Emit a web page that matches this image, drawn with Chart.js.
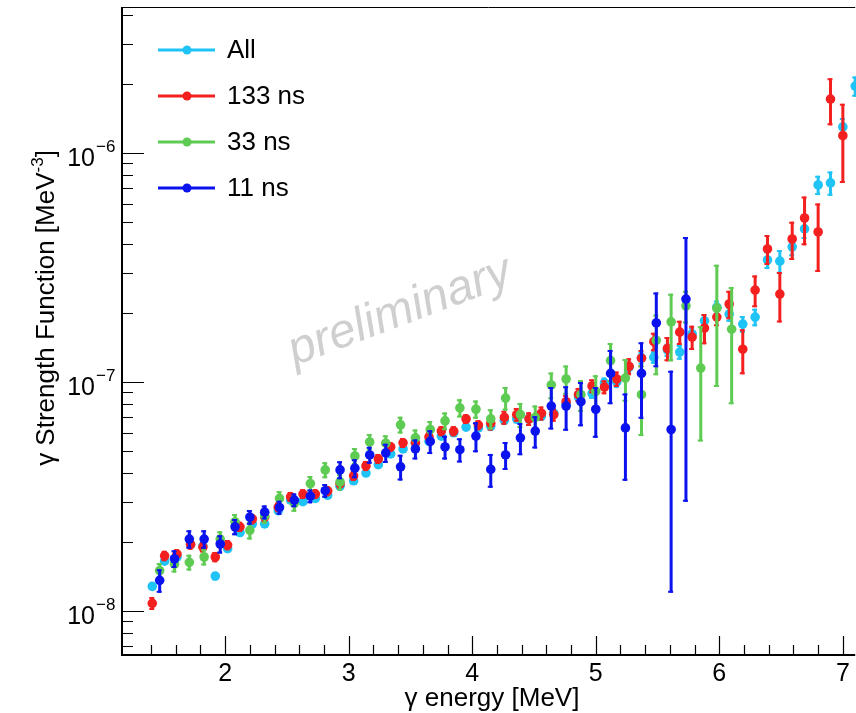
<!DOCTYPE html>
<html>
<head>
<meta charset="utf-8">
<title>gamma strength function</title>
<script src="https://cdn.jsdelivr.net/npm/chart.js@4.4.1/dist/chart.umd.min.js"></script>
<style>
	html, body { margin: 0; padding: 0; background: #ffffff; overflow: hidden; }
	#wrap { position: relative; width: 860px; height: 713px; }
</style>
</head>
<body>
<div id="wrap"><canvas id="myCanvas" width="860" height="713"></canvas></div>
<script>
/*
	Gamma strength function vs gamma energy, four time cuts.
	Values.
*/

// bin centres [MeV] for "All" and "133 ns"
var energyFine = [1.41, 1.51, 1.61, 1.72, 1.82, 1.92, 2.02, 2.12, 2.22, 2.32,
	2.43, 2.53, 2.63, 2.73, 2.83, 2.93, 3.04, 3.14, 3.24, 3.34,
	3.44, 3.54, 3.65, 3.75, 3.85, 3.95, 4.05, 4.15, 4.26, 4.36,
	4.46, 4.56, 4.66, 4.76, 4.86, 4.97, 5.07, 5.17, 5.27, 5.37,
	5.47, 5.58, 5.68, 5.78, 5.88, 5.98, 6.08, 6.19, 6.29, 6.39,
	6.49, 6.59, 6.69, 6.80, 6.90, 7.00, 7.10];

// bin centres [MeV] for "33 ns" and "11 ns"
var energyCoarse = [1.47, 1.59, 1.71, 1.83, 1.96, 2.08, 2.20, 2.32, 2.44, 2.56,
	2.69, 2.81, 2.93, 3.05, 3.17, 3.30, 3.42, 3.54, 3.66, 3.78,
	3.90, 4.03, 4.15, 4.27, 4.39, 4.51, 4.64, 4.76, 4.88, 5.00,
	5.12, 5.24, 5.37, 5.49, 5.61, 5.73, 5.85, 5.98, 6.10];

var allY = [1.28e-8, 1.65e-8, 1.72e-8, 1.95e-8, 1.92e-8, 1.42e-8, 1.87e-8, 2.2e-8, 2.4e-8, 2.4e-8,
	2.74e-8, 3.05e-8, 3.0e-8, 3.1e-8, 3.2e-8, 3.5e-8, 3.7e-8, 4.0e-8, 4.35e-8, 4.85e-8,
	5.1e-8, 5.4e-8, 5.5e-8, 5.8e-8, 6.0e-8, 6.35e-8, 6.3e-8, 6.4e-8, 6.8e-8, 6.9e-8,
	6.9e-8, 7.1e-8, 7.3e-8, 8.0e-8, 8.6e-8, 8.9e-8, 9.9e-8, 1.0e-7, 1.16e-7, 1.27e-7,
	1.28e-7, 1.38e-7, 1.35e-7, 1.62e-7, 1.85e-7, 2.12e-7, 1.98e-7, 1.79e-7, 1.92e-7, 3.41e-7,
	3.37e-7, 3.89e-7, 4.66e-7, 7.25e-7, 7.4e-7, 1.3e-6, 1.96e-6];
var allErr = [0.05e-8, 0.06e-8, 0.06e-8, 0.07e-8, 0.07e-8, 0.06e-8, 0.07e-8, 0.08e-8, 0.09e-8, 0.09e-8,
	0.1e-8, 0.11e-8, 0.11e-8, 0.11e-8, 0.12e-8, 0.13e-8, 0.14e-8, 0.15e-8, 0.16e-8, 0.18e-8,
	0.19e-8, 0.2e-8, 0.21e-8, 0.22e-8, 0.23e-8, 0.25e-8, 0.25e-8, 0.28e-8, 0.3e-8, 0.31e-8,
	0.32e-8, 0.34e-8, 0.36e-8, 0.4e-8, 0.45e-8, 0.47e-8, 0.55e-8, 0.06e-7, 0.07e-7, 0.08e-7,
	0.08e-7, 0.09e-7, 0.1e-7, 0.11e-7, 0.13e-7, 0.15e-7, 0.15e-7, 0.15e-7, 0.17e-7, 0.3e-7,
	0.4e-7, 0.35e-7, 0.45e-7, 0.7e-7, 0.9e-7, 0.12e-6, 0.2e-6];

var ns133Y = [1.08e-8, 1.74e-8, 1.77e-8, 1.95e-8, 1.9e-8, 1.72e-8, 1.94e-8, 2.33e-8, 2.52e-8, 2.57e-8,
	2.84e-8, 3.15e-8, 3.24e-8, 3.24e-8, 3.34e-8, 3.59e-8, 3.89e-8, 4.3e-8, 4.61e-8, 5.2e-8,
	5.42e-8, 5.42e-8, 5.75e-8, 6.1e-8, 6.1e-8, 6.89e-8, 6.48e-8, 6.6e-8, 7.0e-8, 7.2e-8,
	6.9e-8, 7.3e-8, 7.2e-8, 8.2e-8, 8.8e-8, 9.6e-8, 9.5e-8, 1.03e-7, 1.17e-7, 1.27e-7,
	1.5e-7, 1.4e-7, 1.65e-7, 1.57e-7, 1.72e-7, 1.92e-7, 2.19e-7, 1.39e-7, 2.52e-7, 3.81e-7,
	2.42e-7, 4.21e-7, 5.2e-7, 4.52e-7, 1.72e-6, 1.19e-6];
var ns133Err = [0.07e-8, 0.09e-8, 0.09e-8, 0.1e-8, 0.1e-8, 0.09e-8, 0.1e-8, 0.12e-8, 0.13e-8, 0.13e-8,
	0.14e-8, 0.16e-8, 0.16e-8, 0.16e-8, 0.17e-8, 0.18e-8, 0.2e-8, 0.22e-8, 0.23e-8, 0.26e-8,
	0.27e-8, 0.27e-8, 0.29e-8, 0.31e-8, 0.31e-8, 0.34e-8, 0.33e-8, 0.46e-8, 0.49e-8, 0.5e-8,
	0.48e-8, 0.51e-8, 0.5e-8, 0.57e-8, 0.62e-8, 0.67e-8, 0.67e-8, 0.08e-7, 0.1e-7, 0.11e-7,
	0.14e-7, 0.17e-7, 0.2e-7, 0.19e-7, 0.26e-7, 0.17e-7, 0.31e-7, 0.31e-7, 0.4e-7, 0.57e-7,
	0.6e-7, 0.8e-7, 1.25e-7, 1.5e-7, 0.4e-6, 0.45e-6];

var ns33Y = [1.5e-8, 1.6e-8, 1.63e-8, 1.72e-8, 2.06e-8, 2.45e-8, 2.25e-8, 2.6e-8, 3.1e-8, 2.95e-8,
	3.6e-8, 4.13e-8, 3.66e-8, 4.75e-8, 5.47e-8, 5.4e-8, 6.5e-8, 5.7e-8, 6.2e-8, 6.76e-8,
	7.7e-8, 7.6e-8, 6.9e-8, 8.5e-8, 7.2e-8, 7.0e-8, 9.7e-8, 1.03e-7, 8.8e-8, 9.1e-8,
	1.24e-7, 1.04e-7, 8.8e-8, 1.52e-7, 1.83e-7, 2.15e-7, 1.15e-7, 2.1e-7, 1.7e-7];
var ns33Err = [0.12e-8, 0.13e-8, 0.13e-8, 0.14e-8, 0.17e-8, 0.2e-8, 0.2e-8, 0.2e-8, 0.24e-8, 0.24e-8,
	0.28e-8, 0.33e-8, 0.3e-8, 0.4e-8, 0.45e-8, 0.45e-8, 0.55e-8, 0.5e-8, 0.55e-8, 0.6e-8,
	0.7e-8, 0.7e-8, 0.7e-8, 1.0e-8, 0.9e-8, 0.9e-8, 1.3e-8, 0.15e-7, 1.4e-8, 1.6e-8,
	0.24e-7, 0.22e-7, 3.0e-8, 0.45e-7, 0.6e-7, 0.35e-7, 0.6e-7, 1.15e-7, 0.9e-7];

var ns11Y = [1.36e-8, 1.69e-8, 2.06e-8, 2.06e-8, 1.96e-8, 2.33e-8, 2.57e-8, 2.7e-8, 2.83e-8, 3.05e-8,
	3.17e-8, 3.35e-8, 4.13e-8, 4.2e-8, 4.8e-8, 4.9e-8, 4.26e-8, 5.1e-8, 5.5e-8, 5.2e-8,
	5.06e-8, 5.8e-8, 4.15e-8, 4.8e-8, 5.7e-8, 6.1e-8, 7.85e-8, 7.85e-8, 8.2e-8, 7.6e-8,
	1.09e-7, 6.3e-8, 1.09e-7, 1.81e-7, 6.2e-8, 2.3e-7];
var ns11Err = [0.16e-8, 0.15e-8, 0.19e-8, 0.19e-8, 0.18e-8, 0.19e-8, 0.19e-8, 0.19e-8, 0.2e-8, 0.21e-8,
	0.22e-8, 0.23e-8, 0.37e-8, 0.4e-8, 0.41e-8, 0.47e-8, 0.55e-8, 0.51e-8, 0.66e-8, 0.62e-8,
	0.61e-8, 0.87e-8, 0.7e-8, 0.67e-8, 0.91e-8, 0.98e-8, 1.65e-8, 1.73e-8, 1.8e-8, 1.9e-8,
	0.29e-7, 2.6e-8, 0.4e-7, 0.65e-7, 5.0e-8, 2.0e-7];

var seriesNames = ['All', '133 ns', '33 ns', '11 ns'];
var seriesColors = ['#1fc3f6', '#f42020', '#5ecb52', '#0a12ee'];

// axis ticks
var xMajorTicks = [2, 3, 4, 5, 6, 7];
var xMinorTicks = [1.4, 1.6, 1.8, 2.2, 2.4, 2.6, 2.8, 3.2, 3.4, 3.6, 3.8, 4.2, 4.4, 4.6, 4.8,
	5.2, 5.4, 5.6, 5.8, 6.2, 6.4, 6.6, 6.8];
var yMajorTicks = [1e-8, 1e-7, 1e-6];
var yTickExponents = ['\u22128', '\u22127', '\u22126'];
var yMinorTicks = [7e-9, 8e-9, 9e-9,
	2e-8, 3e-8, 4e-8, 5e-8, 6e-8, 7e-8, 8e-8, 9e-8,
	2e-7, 3e-7, 4e-7, 5e-7, 6e-7, 7e-7, 8e-7, 9e-7,
	2e-6, 3e-6, 4e-6];

var FONT = '"Liberation Sans", Arial, Helvetica, sans-serif';


function makePoints(xs, ys, errs){
	var pts = [];
	for (var i = 0; i < ys.length; i++) {
		pts.push({ x: xs[i], y: ys[i], err: errs[i] });
	}
	return pts;
}


// error bars go under each series' own markers
var errorBars = {
	id: 'errorBars',
	beforeDatasetDraw: function(chart, args){
		var ds = chart.data.datasets[args.index];
		var ys = chart.scales.y;
		var ctx = chart.ctx;
		ctx.save();
		ctx.strokeStyle = ds.backgroundColor;
		ctx.lineCap = 'butt';
		args.meta.data.forEach(function(el, i){
			var d = ds.data[i];
			var px = el.x;
			var top = ys.getPixelForValue(d.y + d.err);
			var bot = ys.getPixelForValue(Math.max(d.y - d.err, ys.min * 0.5));
			ctx.lineWidth = 3;
			ctx.beginPath();
			ctx.moveTo(px, top);
			ctx.lineTo(px, bot);
			ctx.stroke();
			// little end caps
			ctx.lineWidth = 2;
			ctx.beginPath();
			ctx.moveTo(px - 3, top + 1);
			ctx.lineTo(px + 2, top + 1);
			ctx.moveTo(px - 3, bot - 1);
			ctx.lineTo(px + 2, bot - 1);
			ctx.stroke();
		});
		ctx.restore();
	}
};


// watermark behind the data
var watermark = {
	id: 'watermark',
	beforeDatasetsDraw: function(chart){
		var ctx = chart.ctx;
		ctx.save();
		ctx.translate(400, 312);
		ctx.rotate(-0.36);
		ctx.fillStyle = '#cfcfcf';
		ctx.font = 'italic 48px ' + FONT;
		ctx.textAlign = 'center';
		ctx.textBaseline = 'middle';
		ctx.fillText('preliminary', 0, 0);
		ctx.restore();
	}
};


// ROOT style frame, inward ticks, labels, titles and legend
var frameAxes = {
	id: 'frameAxes',
	afterDatasetsDraw: function(chart){
		var ctx = chart.ctx;
		var a = chart.chartArea;
		var xs = chart.scales.x;
		var ys = chart.scales.y;
		ctx.save();

		// frame
		ctx.strokeStyle = '#000';
		ctx.lineWidth = 1;
		ctx.beginPath();
		ctx.moveTo(a.left, a.top + 0.5);
		ctx.lineTo(a.right, a.top + 0.5);
		ctx.stroke();
		ctx.lineWidth = 2;
		ctx.beginPath();
		ctx.moveTo(a.left, a.top);
		ctx.lineTo(a.left, a.bottom);
		ctx.lineTo(a.right, a.bottom);
		ctx.stroke();

		// x ticks
		ctx.lineWidth = 1.2;
		ctx.beginPath();
		xMajorTicks.forEach(function(v){
			var p = Math.round(xs.getPixelForValue(v)) + 0.5;
			ctx.moveTo(p, a.bottom);
			ctx.lineTo(p, a.bottom - 19);
		});
		xMinorTicks.forEach(function(v){
			var p = Math.round(xs.getPixelForValue(v)) + 0.5;
			ctx.moveTo(p, a.bottom);
			ctx.lineTo(p, a.bottom - 10);
		});
		// y ticks
		yMajorTicks.forEach(function(v){
			var p = Math.round(ys.getPixelForValue(v)) + 0.5;
			ctx.moveTo(a.left, p);
			ctx.lineTo(a.left + 22, p);
		});
		yMinorTicks.forEach(function(v){
			var p = Math.round(ys.getPixelForValue(v)) + 0.5;
			ctx.moveTo(a.left, p);
			ctx.lineTo(a.left + 11, p);
		});
		ctx.stroke();

		// x tick labels
		ctx.fillStyle = '#000';
		ctx.font = '25px ' + FONT;
		ctx.textAlign = 'center';
		ctx.textBaseline = 'top';
		xMajorTicks.forEach(function(v){
			ctx.fillText(String(v), xs.getPixelForValue(v), a.bottom + 7);
		});

		// y tick labels: 10 with raised exponent
		yMajorTicks.forEach(function(v, i){
			var p = ys.getPixelForValue(v);
			ctx.textAlign = 'right';
			ctx.textBaseline = 'alphabetic';
			ctx.font = '25px ' + FONT;
			ctx.fillText('10', 95, p + 13);
			ctx.textAlign = 'left';
			ctx.font = '17px ' + FONT;
			ctx.fillText(yTickExponents[i], 96, p - 1);
		});

		// x title
		ctx.font = '26px ' + FONT;
		ctx.textAlign = 'center';
		ctx.textBaseline = 'alphabetic';
		ctx.fillText('\u03b3 energy [MeV]', 492, 706);

		// y title, rotated
		ctx.save();
		ctx.translate(45, 308);
		ctx.rotate(-Math.PI / 2);
		var t1 = '\u03b3 Strength Function [MeV';
		var t2 = '-3';
		var t3 = ']';
		ctx.font = '26px ' + FONT;
		var w1 = ctx.measureText(t1).width;
		var w3 = ctx.measureText(t3).width;
		ctx.font = '17px ' + FONT;
		var w2 = ctx.measureText(t2).width;
		var x0 = -(w1 + w2 + w3) / 2;
		ctx.textAlign = 'left';
		ctx.font = '26px ' + FONT;
		ctx.fillText(t1, x0, 9);
		ctx.fillText(t3, x0 + w1 + w2, 9);
		ctx.font = '17px ' + FONT;
		ctx.fillText(t2, x0 + w1, -2);
		ctx.restore();

		// legend
		chart.data.datasets.forEach(function(ds, i){
			var yy = 50 + 46 * i;
			ctx.strokeStyle = ds.backgroundColor;
			ctx.lineWidth = 3;
			ctx.beginPath();
			ctx.moveTo(158, yy);
			ctx.lineTo(215, yy);
			ctx.stroke();
			ctx.fillStyle = ds.backgroundColor;
			ctx.beginPath();
			ctx.arc(187, yy, 4.5, 0, Math.PI * 2);
			ctx.fill();
			ctx.fillStyle = '#000';
			ctx.font = '26px ' + FONT;
			ctx.textAlign = 'left';
			ctx.textBaseline = 'middle';
			ctx.fillText(ds.label, 227, yy + 1);
		});

		ctx.restore();
	}
};


var datasets = [
	makePoints(energyFine, allY, allErr),
	makePoints(energyFine, ns133Y, ns133Err),
	makePoints(energyCoarse, ns33Y, ns33Err),
	makePoints(energyCoarse, ns11Y, ns11Err)
].map(function(pts, i){
	return {
		label: seriesNames[i],
		data: pts,
		backgroundColor: seriesColors[i],
		borderColor: seriesColors[i],
		pointRadius: 4.8,
		pointBorderWidth: 0,
		pointHoverRadius: 4.8,
		showLine: false,
		order: 4 - i   // blue drawn last, on top
	};
});

var ctx = document.getElementById('myCanvas').getContext('2d');
var myChart = new Chart(ctx, {
	type: 'scatter',
	data: { datasets: datasets },
	options: {
		responsive: false,
		animation: false,
		devicePixelRatio: 1,
		layout: { padding: { left: 122, top: 7, right: 2, bottom: 58 } },
		plugins: {
			legend: { display: false },
			tooltip: { enabled: false }
		},
		scales: {
			x: { type: 'linear', display: false, min: 1.165, max: 7.1 },
			y: { type: 'logarithmic', display: false, min: 6.42e-9, max: 4.34e-6 }
		}
	},
	plugins: [watermark, errorBars, frameAxes]
});
</script>
</body>
</html>
